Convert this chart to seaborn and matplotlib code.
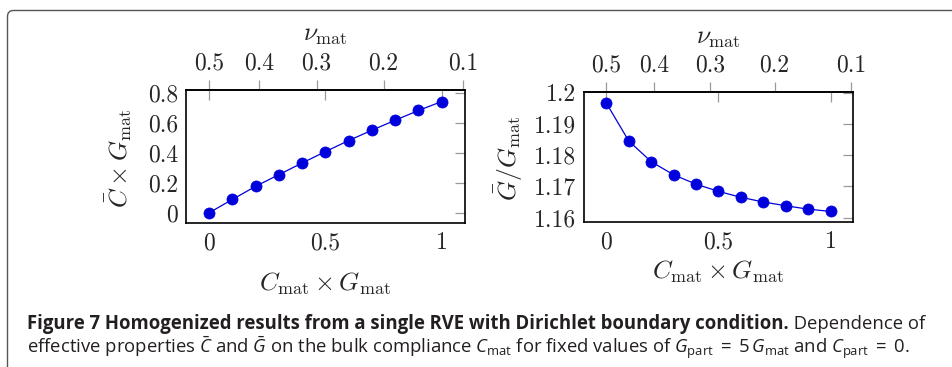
import numpy as np
import pandas as pd
import seaborn as sns
import matplotlib
matplotlib.use("Agg")
import matplotlib.pyplot as plt
from matplotlib.patches import FancyBboxPatch
from matplotlib.transforms import IdentityTransform
from matplotlib.ticker import FixedLocator, FuncFormatter
from matplotlib import font_manager

# ---------------- data ----------------
c_mat = [0.0, 0.1, 0.2, 0.3, 0.4, 0.5, 0.6, 0.7, 0.8, 0.9, 1.0]
c_bar = [0.0, 0.089, 0.177, 0.255, 0.333, 0.409, 0.483, 0.552, 0.619, 0.684, 0.744]
g_bar = [1.1966, 1.1845, 1.1779, 1.1737, 1.1707, 1.1684, 1.1665, 1.1650,
         1.1638, 1.1627, 1.1620]
x_ticks = [0, 0.5, 1]
nu_ticks = [0.5, 0.4, 0.3, 0.2, 0.1]
c_ticks = [0, 0.2, 0.4, 0.6, 0.8]
g_ticks = [1.16, 1.17, 1.18, 1.19, 1.2]

caption_bold = "Figure 7 Homogenized results from a single RVE with Dirichlet boundary condition."
caption_rest1 = " Dependence of"
caption_line2 = (r"effective properties $\bar{C}$ and $\bar{G}$ on the bulk compliance "
                 r"$C_{\mathrm{mat}}$ for fixed values of $G_{\mathrm{part}}\;=\;5\,G_{\mathrm{mat}}$"
                 r" and $C_{\mathrm{part}}\;=\;0$.")

# ---------------- style ----------------
sns.set_theme(style="white")
plt.rcParams["font.family"] = ["cmr10", "DejaVu Serif"]
plt.rcParams["mathtext.fontset"] = "cm"
plt.rcParams["axes.formatter.use_mathtext"] = True

names = {f.name for f in font_manager.fontManager.ttflist}
cap_font = "Liberation Sans Narrow" if "Liberation Sans Narrow" in names else "Open Sans"
plt.rcParams["mathtext.rm"] = cap_font
plt.rcParams["mathtext.it"] = cap_font + ":italic"
plt.rcParams["mathtext.bf"] = cap_font + ":bold"

W, H = 953, 367
fig = plt.figure(figsize=(W / 100, H / 100), dpi=100)
fig.patch.set_facecolor("white")

BLUE = "#0000dd"
TICKC = "#9a9a9a"
FS = 17      # tick labels
LFS = 18.5   # axis labels


def fmt(v, pos=None):
    return f"{round(v, 6):g}"


def c2nu(c):
    c = np.asarray(c, dtype=float)
    return (3 - 2 * c) / (2 * (3 + c))


def nu2c(nu):
    nu = np.asarray(nu, dtype=float)
    return (3 - 6 * nu) / (2 + 2 * nu)


def style_axes(ax, yticks, ylim):
    ax.set_xlim(-0.1, 1.1)
    ax.set_ylim(*ylim)
    ax.xaxis.set_major_locator(FixedLocator(x_ticks))
    ax.yaxis.set_major_locator(FixedLocator(yticks))
    ax.xaxis.set_major_formatter(FuncFormatter(fmt))
    ax.yaxis.set_major_formatter(FuncFormatter(fmt))
    ax.tick_params(axis="both", which="major", direction="in", length=7, width=0.9,
                   color=TICKC, labelsize=FS, top=True, right=True,
                   labeltop=False, labelright=False)
    ax.tick_params(axis="x", pad=6.5)
    ax.tick_params(axis="y", pad=5.5)
    for s in ax.spines.values():
        s.set_color("black")
        s.set_linewidth(1.2)
    ax.grid(False)
    sec = ax.secondary_xaxis("top", functions=(c2nu, nu2c))
    sec.xaxis.set_major_locator(FixedLocator(nu_ticks))
    sec.xaxis.set_major_formatter(FuncFormatter(fmt))
    sec.tick_params(axis="x", direction="out", length=7, width=0.9, color=TICKC,
                    labelsize=FS, pad=4.5)
    sec.spines["top"].set_color("black")
    sec.spines["top"].set_linewidth(1.2)
    return sec


# left panel
ax1 = fig.add_axes([186 / W, 1 - 223 / H, 279 / W, 133 / H])
sns.lineplot(x=c_mat, y=c_bar, ax=ax1, color=BLUE, marker="o", markersize=8,
             markeredgecolor=BLUE, markeredgewidth=0.5, linewidth=0.9)
sec1 = style_axes(ax1, c_ticks, (-0.069, 0.821))

# right panel
ax2 = fig.add_axes([584 / W, 1 - 222 / H, 269 / W, 130 / H])
sns.lineplot(x=c_mat, y=g_bar, ax=ax2, color=BLUE, marker="o", markersize=8,
             markeredgecolor=BLUE, markeredgewidth=0.5, linewidth=0.9)
sec2 = style_axes(ax2, g_ticks, (1.1586, 1.2002))

# axis labels
ax1.set_xlabel(r"$C_{\mathrm{mat}} \times G_{\mathrm{mat}}$", fontsize=LFS)
ax1.xaxis.set_label_coords(0.5, -0.46)
ax1.set_ylabel(r"$\bar{C} \times G_{\mathrm{mat}}$", fontsize=LFS)
ax1.yaxis.set_label_coords(-0.24, 0.49)
ax1.text(0.5, 1.41, r"$\nu_{\mathrm{mat}}$", transform=ax1.transAxes, fontsize=LFS,
         ha="center", va="center")

ax2.set_xlabel(r"$C_{\mathrm{mat}} \times G_{\mathrm{mat}}$", fontsize=LFS)
ax2.xaxis.set_label_coords(0.5, -0.385)
ax2.set_ylabel(r"$\bar{G}/G_{\mathrm{mat}}$", fontsize=LFS)
ax2.yaxis.set_label_coords(-0.279, 0.49)
ax2.text(0.5, 1.415, r"$\nu_{\mathrm{mat}}$", transform=ax2.transAxes, fontsize=LFS,
         ha="center", va="center")
for a in (ax1, ax2):
    a.xaxis.label.set_va("center")
    a.yaxis.label.set_va("center")

# frame around the figure
frame = FancyBboxPatch((7.5, -30), 1100, H - 10.5 + 30,
                       boxstyle="round,pad=0,rounding_size=6",
                       transform=IdentityTransform(), facecolor="none",
                       edgecolor="#555555", linewidth=1.0, zorder=0)
fig.add_artist(frame)

# caption, sized to fit the reference widths
renderer = fig.canvas.get_renderer()
x0 = 27
y1 = H - 329
y2 = H - 353
target1 = 923 - 27


def make_line1(fs):
    tb = fig.text(x0 / W, y1 / H, caption_bold, fontsize=fs, fontweight="bold",
                  family=cap_font, va="baseline", ha="left", color="#231f20")
    bb = tb.get_window_extent(renderer)
    tr = fig.text(bb.x1 / W, y1 / H, caption_rest1, fontsize=fs, family=cap_font,
                  va="baseline", ha="left", color="#231f20")
    bb2 = tr.get_window_extent(renderer)
    return tb, tr, bb2.x1 - bb.x0


tb, tr, width = make_line1(12)
fs_cap = 12 * target1 / width
tb.remove()
tr.remove()
tb, tr, width = make_line1(fs_cap)
fig.text(x0 / W, y2 / H, caption_line2, fontsize=fs_cap, family=cap_font,
         va="baseline", ha="left", color="#231f20", math_fontfamily="custom")

fig.savefig("out.png", dpi=100, facecolor="white")
